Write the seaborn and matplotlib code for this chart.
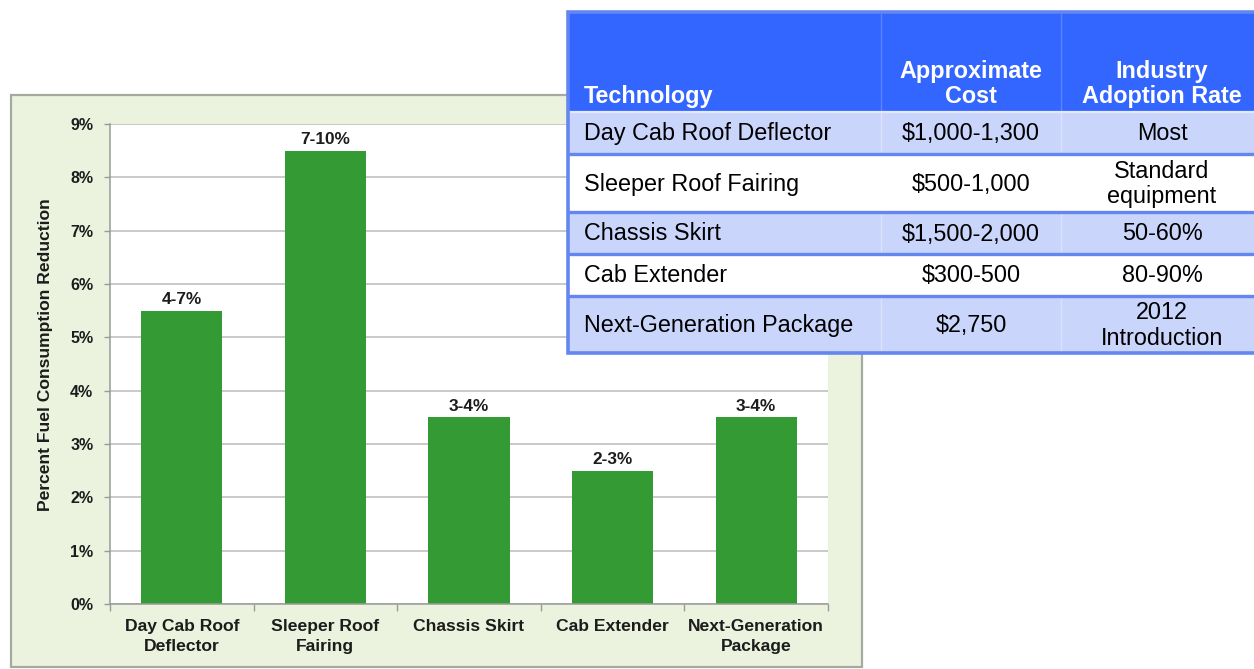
import matplotlib
matplotlib.use("Agg")
import matplotlib.pyplot as plt
from matplotlib.patches import Rectangle
import seaborn as sns

# ---- bar chart data -------------------------------------------------------
categories = ["Day Cab Roof\nDeflector", "Sleeper Roof\nFairing", "Chassis Skirt",
              "Cab Extender", "Next-Generation\nPackage"]
reduction_pct = [5.5, 8.5, 3.5, 2.5, 3.5]
range_labels = ["4-7%", "7-10%", "3-4%", "2-3%", "3-4%"]
y_ticks = [0, 1, 2, 3, 4, 5, 6, 7, 8, 9]
y_label = "Percent Fuel Consumption Reduction"

# ---- table data ------------------------------------------------------------
table_header = ["Technology", "Approximate\nCost", "Industry\nAdoption Rate"]
tech_names = ["Day Cab Roof Deflector", "Sleeper Roof Fairing", "Chassis Skirt",
              "Cab Extender", "Next-Generation Package"]
approx_cost = ["$1,000-1,300", "$500-1,000", "$1,500-2,000", "$300-500", "$2,750"]
adoption_rate = ["Most", "Standard\nequipment", "50-60%", "80-90%", "2012\nIntroduction"]

# ---- styling ---------------------------------------------------------------
sns.set_theme(style="white")
plt.rcParams["font.family"] = ["Liberation Sans", "DejaVu Sans"]

W, H = 1254, 669
BAR_GREEN = "#349a34"
PANEL_BG = "#ebf3df"
PANEL_EDGE = "#a3aaa0"
GRID = "#bababa"
TXT = "#1c1c1c"
HEAD_BLUE = "#3366ff"
LINE_BLUE = "#6486f0"
ROW_TINT = "#cad5fb"

fig = plt.figure(figsize=(W / 100, H / 100), dpi=100)
fig.patch.set_facecolor("white")


def frac(x0, y0, x1, y1):
    """Pixel box (top-left origin) -> figure fraction rect."""
    return [x0 / W, 1 - y1 / H, (x1 - x0) / W, (y1 - y0) / H]


# background panel behind the chart
bg = fig.add_axes([0, 0, 1, 1])
bg.set_xlim(0, W)
bg.set_ylim(H, 0)
bg.axis("off")
bg.add_patch(Rectangle((11, 95), 851, 572, facecolor=PANEL_BG,
                       edgecolor=PANEL_EDGE, lw=1.6))

# ---- bar chart -------------------------------------------------------------
ax = fig.add_axes(frac(110, 124, 828, 604))
ax.set_facecolor("white")
sns.barplot(x=categories, y=reduction_pct, color=BAR_GREEN, saturation=1,
            width=0.565, errorbar=None, ax=ax, edgecolor="none")
ax.set_ylim(0, 9)
ax.set_xlim(-0.5, len(categories) - 0.5)
ax.set_yticks(y_ticks)
ax.set_yticklabels([f"{t}%" for t in y_ticks], fontsize=11.5, fontweight="bold",
                   color=TXT)
ax.yaxis.grid(True, color=GRID, lw=1.1)
ax.set_axisbelow(True)
ax.tick_params(axis="y", length=4, width=1, color="#9a9a9a", pad=8, left=True)
ax.set_xticks(range(len(categories)))
ax.set_xticklabels(categories, fontsize=12.6, fontweight="bold", color=TXT,
                   linespacing=1.38)
ax.tick_params(axis="x", which="major", length=0, pad=11)
ax.set_xticks([i - 0.5 for i in range(len(categories) + 1)], minor=True)
ax.tick_params(axis="x", which="minor", length=5, width=1, color="#9a9a9a",
               bottom=True)
for side in ("top", "right"):
    ax.spines[side].set_visible(False)
for side in ("left", "bottom"):
    ax.spines[side].set_color("#9a9a9a")
    ax.spines[side].set_linewidth(1.1)
ax.set_xlabel("")
ax.set_ylabel(y_label, fontsize=12.6, fontweight="bold", color=TXT)
ax.yaxis.set_label_coords(-0.079, 0.52)

for i, (v, lab) in enumerate(zip(reduction_pct, range_labels)):
    ax.text(i, v + 0.07, lab, ha="center", va="bottom", fontsize=12.4,
            fontweight="bold", color=TXT)

# ---- table -----------------------------------------------------------------
tx0, tx1 = 568, 1270
col_edges = [568, 881, 1061, 1270]
row_edges = [12, 111, 154, 212, 254, 296, 353]

tab = fig.add_axes(frac(0, 0, W, H))
tab.set_xlim(0, W)
tab.set_ylim(H, 0)
tab.axis("off")

# header band
tab.add_patch(Rectangle((tx0, row_edges[0]), tx1 - tx0,
                        row_edges[1] - row_edges[0], facecolor=HEAD_BLUE,
                        edgecolor="none"))
# body rows, alternating tint
for r in range(len(tech_names)):
    y0, y1 = row_edges[r + 1], row_edges[r + 2]
    tab.add_patch(Rectangle((tx0, y0), tx1 - tx0, y1 - y0,
                            facecolor=ROW_TINT if r % 2 == 0 else "white",
                            edgecolor="none"))
# faint column separators
for cx in col_edges[1:-1]:
    tab.plot([cx, cx], [row_edges[0] + 2, row_edges[1]], color="#5a83ff", lw=1)
    for r in range(0, len(tech_names), 2):
        tab.plot([cx, cx], [row_edges[r + 1] + 2, row_edges[r + 2] - 2],
                 color="#dbe2fd", lw=1)
# thin light line under the header
tab.plot([tx0, tx1], [row_edges[1] + 0.5] * 2, color="#e4e9ff", lw=1.6)
# blue row separators
for y in row_edges[2:-1]:
    tab.plot([tx0, tx1], [y, y], color=LINE_BLUE, lw=2.4,
             solid_capstyle="butt")
# outer border
tab.plot([tx1, tx0, tx0, tx1],
         [row_edges[0], row_edges[0], row_edges[-1], row_edges[-1]],
         color=LINE_BLUE, lw=2.6, solid_joinstyle="miter")

# header text
hdr_bottom = row_edges[1] - 3
tab.text(584, hdr_bottom, table_header[0], ha="left", va="bottom",
         fontsize=16.8, fontweight="bold", color="white", parse_math=False)
tab.text(971, hdr_bottom, table_header[1], ha="center", va="bottom",
         fontsize=16.8, fontweight="bold", color="white", linespacing=1.1,
         parse_math=False)
tab.text(1162, hdr_bottom, table_header[2], ha="center", va="bottom",
         fontsize=16.8, fontweight="bold", color="white", linespacing=1.1,
         parse_math=False)

# body text
for r, (t, c, a) in enumerate(zip(tech_names, approx_cost, adoption_rate)):
    yc = (row_edges[r + 1] + row_edges[r + 2]) / 2 + 1
    tab.text(584, yc, t, ha="left", va="center", fontsize=16.8, color="black",
             parse_math=False)
    tab.text(971, yc, c, ha="center", va="center", fontsize=16.8,
             color="black", parse_math=False)
    tab.text(1162, yc, a, ha="center", va="center", fontsize=16.8,
             color="black", linespacing=1.15, parse_math=False)

fig.savefig("out.png", dpi=100)
